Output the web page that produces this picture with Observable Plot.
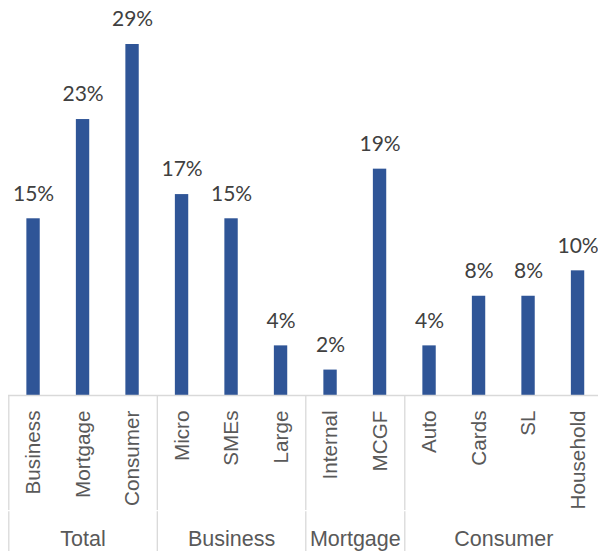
<!DOCTYPE html>
<html>
<head>
<meta charset="utf-8">
<script src="https://cdn.jsdelivr.net/npm/d3@7"></script>
<script src="https://cdn.jsdelivr.net/npm/@observablehq/plot@0.6"></script>
<style>
  html, body { margin: 0; padding: 0; background: #fff; overflow: hidden; }
</style>
</head>
<body>
<div id="chart"></div>
<script>
const categories = ["Business", "Mortgage", "Consumer", "Micro", "SMEs", "Large", "Internal", "MCGF", "Auto", "Cards", "SL", "Household"];
const values = [14.6, 22.8, 29.0, 16.6, 14.6, 4.1, 2.1, 18.7, 4.1, 8.2, 8.2, 10.3];
const groups = ["Total", "Business", "Mortgage", "Consumer"];
const groupSizes = [3, 3, 2, 4];

const pad = 0.365;
const data = categories.map((c, i) => ({cat: c, value: values[i], i}));

const bounds = [0];
groupSizes.forEach(n => bounds.push(bounds[bounds.length - 1] + n));
const groupData = groups.map((g, k) => ({name: g, mid: (bounds[k] + bounds[k + 1]) / 2}));
const sepData = bounds.slice(0, -1);

const plot = Plot.plot({
  width: 598,
  height: 551,
  marginLeft: 8,
  marginRight: 0,
  marginTop: 0,
  marginBottom: 0,
  x: {type: "linear", domain: [0, 12], range: [8.3, 602.3], axis: null},
  y: {domain: [0, 29], range: [395, 44], axis: null},
  style: {background: "#fff"},
  marks: [
    Plot.rectY(data, {x1: d => d.i + pad, x2: d => d.i + 1 - pad, y1: 0, y2: "value", fill: "#2F5597"}),
    Plot.ruleY([0], {stroke: "#d9d9d9", strokeWidth: 1.3}),
    Plot.ruleX(sepData, {x: d => d, y1: 0, y2: -9.5, stroke: "#d9d9d9", strokeWidth: 1.3}),
    Plot.ruleX(sepData, {x: d => d, y1: -9.6, y2: -13.5, stroke: "#d9d9d9", strokeWidth: 1.3}),
    Plot.text(data, {
      x: d => d.i + 0.5, y: "value",
      text: d => Math.round(d.value) + "%",
      dy: -25, lineAnchor: "middle",
      fontSize: 21, fill: "#404040",
      fontFamily: "Lato, 'Open Sans', sans-serif"
    }),
    Plot.text(data, {
      x: d => d.i + 0.5, y: 0,
      text: "cat",
      rotate: -90, textAnchor: "end", lineAnchor: "middle",
      dy: 15,
      fontSize: 20.7, fill: "#595959",
      fontFamily: "'Liberation Sans', Arial, sans-serif"
    }),
    Plot.text(groupData, {
      x: "mid", y: 0,
      text: "name",
      lineAnchor: "middle",
      dy: 144,
      fontSize: 21.5, fill: "#595959",
      fontFamily: "'Liberation Sans', Arial, sans-serif"
    })
  ]
});
document.getElementById("chart").appendChild(plot);
</script>
</body>
</html>
